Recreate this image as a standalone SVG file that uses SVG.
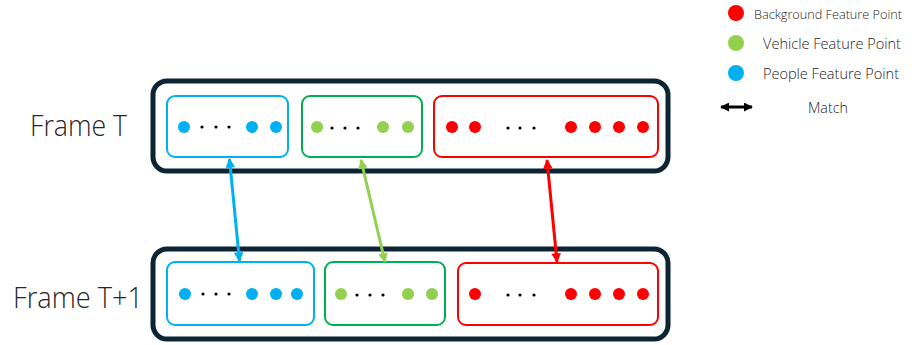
<svg xmlns="http://www.w3.org/2000/svg" width="912" height="345" viewBox="0 0 912 345">
<style>
.outer{fill:none;stroke:#0c2434;stroke-width:5}
.pb{fill:none;stroke:#00b0f0;stroke-width:2}
.vb{fill:none;stroke:#00b050;stroke-width:2}
.bb{fill:none;stroke:#ff0000;stroke-width:2}
.pd{fill:#00b0f0}
.vd{fill:#92d050}
.bd{fill:#ff0000}
.sd{fill:#000}
.frame{font-family:"Open Sans","Liberation Sans",sans-serif;font-weight:300;font-size:29px;fill:#262626}
.leg{font-family:"Open Sans","Liberation Sans",sans-serif;font-weight:300;font-size:14px;fill:#262626;text-anchor:middle}
</style>
<defs>
<marker id="ab" viewBox="0 0 10 10" refX="9" refY="5" markerWidth="3.6" markerHeight="3.2" markerUnits="strokeWidth" orient="auto-start-reverse"><path d="M0,0 L10,5 L0,10 Z" fill="#00b0f0"/></marker>
<marker id="ag" viewBox="0 0 10 10" refX="9" refY="5" markerWidth="3.6" markerHeight="3.2" markerUnits="strokeWidth" orient="auto-start-reverse"><path d="M0,0 L10,5 L0,10 Z" fill="#92d050"/></marker>
<marker id="ar" viewBox="0 0 10 10" refX="9" refY="5" markerWidth="3.6" markerHeight="3.2" markerUnits="strokeWidth" orient="auto-start-reverse"><path d="M0,0 L10,5 L0,10 Z" fill="#ff0000"/></marker>
<marker id="ak" viewBox="0 0 10 10" refX="9" refY="5" markerWidth="3" markerHeight="3" markerUnits="strokeWidth" orient="auto-start-reverse"><path d="M0,0 L10,5 L0,10 Z" fill="#000"/></marker>
</defs>

<g id="legend">
<circle class="bd" cx="736" cy="13" r="8"/>
<text class="leg" x="828" y="19" font-size="13" textLength="148" lengthAdjust="spacingAndGlyphs" style="font-size:13px">Background Feature Point</text>
<circle class="vd" cx="736" cy="43" r="8"/>
<text class="leg" x="832" y="49" textLength="138" lengthAdjust="spacingAndGlyphs">Vehicle Feature Point</text>
<circle class="pd" cx="736" cy="73" r="8"/>
<text class="leg" x="831" y="79" textLength="136" lengthAdjust="spacingAndGlyphs">People Feature Point</text>
<line x1="721" y1="107" x2="752" y2="107" stroke="#000" stroke-width="3" marker-start="url(#ak)" marker-end="url(#ak)"/>
<text class="leg" x="828" y="113" textLength="40" lengthAdjust="spacingAndGlyphs">Match</text>
</g>

<g id="frameT">
<text class="frame" x="30" y="136" textLength="97" lengthAdjust="spacingAndGlyphs">Frame T</text>
<rect class="outer" x="153" y="81" width="515" height="90" rx="14"/>
</g>
<g id="frameT1">
<text class="frame" x="13" y="308" textLength="130" lengthAdjust="spacingAndGlyphs">Frame T+1</text>
<rect class="outer" x="153" y="249" width="515" height="90" rx="14"/>
</g>

<g id="peopleT">
<rect class="pb" x="167" y="96" width="121" height="61" rx="8"/>
<circle class="pd" cx="184" cy="127" r="6"/>
<circle class="sd" cx="202" cy="127" r="1.6"/><circle class="sd" cx="216" cy="127" r="1.6"/><circle class="sd" cx="229" cy="127" r="1.6"/>
<circle class="pd" cx="252" cy="127" r="6"/><circle class="pd" cx="276" cy="127" r="6"/>
</g>
<g id="vehicleT">
<rect class="vb" x="302" y="96" width="120" height="61" rx="8"/>
<circle class="vd" cx="317" cy="127" r="6"/>
<circle class="sd" cx="332" cy="128" r="1.6"/><circle class="sd" cx="345" cy="128" r="1.6"/><circle class="sd" cx="358" cy="128" r="1.6"/>
<circle class="vd" cx="383" cy="127" r="6"/><circle class="vd" cx="408" cy="127" r="6"/>
</g>
<g id="backgroundT">
<rect class="bb" x="434" y="96" width="224" height="61" rx="8"/>
<circle class="bd" cx="452" cy="127" r="6"/><circle class="bd" cx="475" cy="127" r="6"/>
<circle class="sd" cx="508" cy="128" r="1.6"/><circle class="sd" cx="520" cy="128" r="1.6"/><circle class="sd" cx="534" cy="128" r="1.6"/>
<circle class="bd" cx="571" cy="127" r="6"/><circle class="bd" cx="595" cy="127" r="6"/><circle class="bd" cx="619" cy="127" r="6"/><circle class="bd" cx="643" cy="127" r="6"/>
</g>

<g id="peopleT1">
<rect class="pb" x="167" y="262" width="147" height="63" rx="8"/>
<circle class="pd" cx="185" cy="294" r="6"/>
<circle class="sd" cx="203" cy="294" r="1.6"/><circle class="sd" cx="216" cy="294" r="1.6"/><circle class="sd" cx="229" cy="294" r="1.6"/>
<circle class="pd" cx="252" cy="294" r="6"/><circle class="pd" cx="276" cy="294" r="6"/><circle class="pd" cx="297" cy="294" r="6"/>
</g>
<g id="vehicleT1">
<rect class="vb" x="325" y="262" width="120" height="63" rx="8"/>
<circle class="vd" cx="341" cy="294" r="6"/>
<circle class="sd" cx="357" cy="295" r="1.6"/><circle class="sd" cx="370" cy="295" r="1.6"/><circle class="sd" cx="383" cy="295" r="1.6"/>
<circle class="vd" cx="408" cy="294" r="6"/><circle class="vd" cx="432" cy="294" r="6"/>
</g>
<g id="backgroundT1">
<rect class="bb" x="458" y="263" width="200" height="62" rx="8"/>
<circle class="bd" cx="475" cy="294" r="6"/>
<circle class="sd" cx="508" cy="295" r="1.6"/><circle class="sd" cx="520" cy="295" r="1.6"/><circle class="sd" cx="534" cy="295" r="1.6"/>
<circle class="bd" cx="571" cy="294" r="6"/><circle class="bd" cx="595" cy="294" r="6"/><circle class="bd" cx="619" cy="294" r="6"/><circle class="bd" cx="643" cy="294" r="6"/>
</g>

<g id="connectors" stroke-width="3" fill="none">
<line x1="229.5" y1="159" x2="239.5" y2="261" stroke="#00b0f0" marker-start="url(#ab)" marker-end="url(#ab)"/>
<line x1="361" y1="160" x2="385" y2="262" stroke="#92d050" marker-start="url(#ag)" marker-end="url(#ag)"/>
<line x1="547" y1="160" x2="557" y2="262" stroke="#ff0000" marker-start="url(#ar)" marker-end="url(#ar)"/>
</g>
</svg>
